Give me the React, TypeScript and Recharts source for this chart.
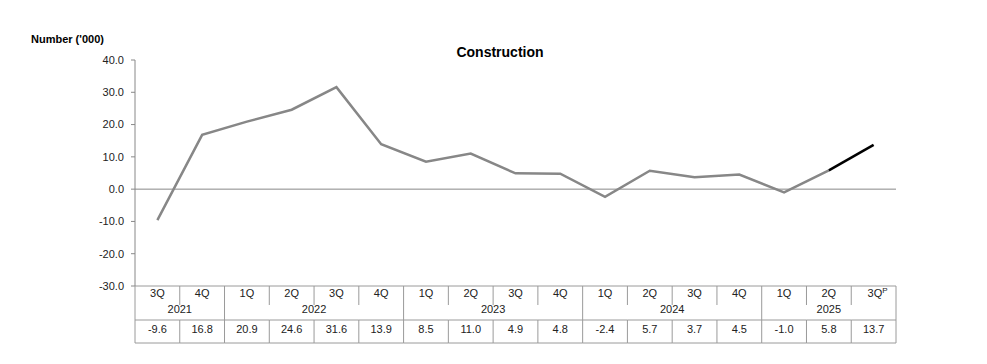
import { Line, LineChart, ReferenceLine, XAxis, YAxis } from 'recharts'

const quarters = ['3Q', '4Q', '1Q', '2Q', '3Q', '4Q', '1Q', '2Q', '3Q', '4Q', '1Q', '2Q', '3Q', '4Q', '1Q', '2Q', '3Q']
const years = ['2021', '2021', '2022', '2022', '2022', '2022', '2023', '2023', '2023', '2023', '2024', '2024', '2024', '2024', '2025', '2025', '2025']
const notes = ['', '', '', '', '', '', '', '', '', '', '', '', '', '', '', '', 'P']
const values = [-9.6, 16.8, 20.9, 24.6, 31.6, 13.9, 8.5, 11.0, 4.9, 4.8, -2.4, 5.7, 3.7, 4.5, -1.0, 5.8, 13.7]
const yTicks = [40, 30, 20, 10, 0, -10, -20, -30]
// the provisional segment starts at this point (2Q 2025)
const latestFrom = 15

const FONT = '"Liberation Sans", Arial, sans-serif'
const TEXT = '#222'
const GRID = '#9a9a9a'

type Row = {
  id: string
  quarter: string
  year: string
  note: string
  value: number
  main: number | null
  latest: number | null
}

const data: Row[] = values.map((v, i) => ({
  id: String(i),
  quarter: quarters[i],
  year: years[i],
  note: notes[i],
  value: v,
  main: i <= latestFrom ? v : null,
  latest: i >= latestFrom ? v : null,
}))

type TickProps = {
  x: number
  y: number
  index: number
  width?: number
}

// Draws one column of the table under the plot
function TableTick({ x, y, index, width }: TickProps) {
  const n = data.length
  const step = (width ?? 761) / n
  const d = data[index]
  if (!d) return null
  const left = x - step / 2
  const right = x + step / 2
  const firstOfYear = index === 0 || data[index - 1].year !== d.year
  const last = index === n - 1
  let groupSize = 0
  if (firstOfYear) {
    for (let j = index; j < n && data[j].year === d.year; j++) groupSize++
  }
  return (
    <g fontFamily={FONT} fontSize={11} fill={TEXT}>
      <line x1={left} x2={left} y1={y} y2={y + (firstOfYear ? 57 : 19)} stroke={GRID} />
      {!firstOfYear && <line x1={left} x2={left} y1={y + 34} y2={y + 57} stroke={GRID} />}
      {last && <line x1={right} x2={right} y1={y} y2={y + 57} stroke={GRID} />}
      <line x1={left} x2={right} y1={y + 34} y2={y + 34} stroke={GRID} />
      <line x1={left} x2={right} y1={y + 57} y2={y + 57} stroke={GRID} />
      <text x={x + (d.note ? 4 : 0)} y={y + 11} textAnchor="middle" fill={TEXT} stroke="none">
        {d.quarter}
        {d.note && (
          <tspan fontSize={8} dy={-4}>
            {d.note}
          </tspan>
        )}
      </text>
      {firstOfYear && (
        <text x={left + (groupSize * step) / 2} y={y + 27} textAnchor="middle" fill={TEXT} stroke="none">
          {d.year}
        </text>
      )}
      <text x={x} y={y + 47} textAnchor="middle" fill={TEXT} stroke="none">
        {d.value.toFixed(1)}
      </text>
    </g>
  )
}

export default function App() {
  return (
    <div style={{ position: 'absolute', left: 0, top: 0, width: 987, height: 364, background: '#fff' }}>
      <div
        style={{
          position: 'absolute',
          left: 31,
          top: 33,
          fontFamily: FONT,
          fontSize: 11,
          fontWeight: 700,
          color: '#000',
        }}
      >
        Number ('000)
      </div>
      <div
        style={{
          position: 'absolute',
          left: 0,
          width: 1000,
          top: 44,
          textAlign: 'center',
          fontFamily: FONT,
          fontSize: 14,
          fontWeight: 700,
          color: '#000',
        }}
      >
        Construction
      </div>
      <LineChart
        width={987}
        height={364}
        data={data}
        margin={{ top: 60, right: 91, left: 90, bottom: 0 }}
      >
        <XAxis
          dataKey="id"
          scale="band"
          height={78}
          tickSize={0}
          tickMargin={0}
          tickLine={false}
          axisLine={{ stroke: GRID }}
          interval={0}
          tick={(p: any) => <TableTick key={p.index} {...p} />}
        />
        <YAxis
          width={45}
          domain={[-30, 40]}
          ticks={yTicks}
          allowDataOverflow
          axisLine={{ stroke: '#888' }}
          tickLine={{ stroke: '#888' }}
          tickSize={4}
          tickMargin={7}
          tickFormatter={(v: number) => v.toFixed(1)}
          tick={{ fill: TEXT, fontSize: 11, fontFamily: FONT }}
        />
        <ReferenceLine y={0} stroke="#888" strokeWidth={1} />
        <Line
          dataKey="main"
          stroke="#878787"
          strokeWidth={2.5}
          dot={false}
          isAnimationActive={false}
        />
        <Line
          dataKey="latest"
          stroke="#000"
          strokeWidth={2.5}
          dot={false}
          isAnimationActive={false}
        />
      </LineChart>
    </div>
  )
}
